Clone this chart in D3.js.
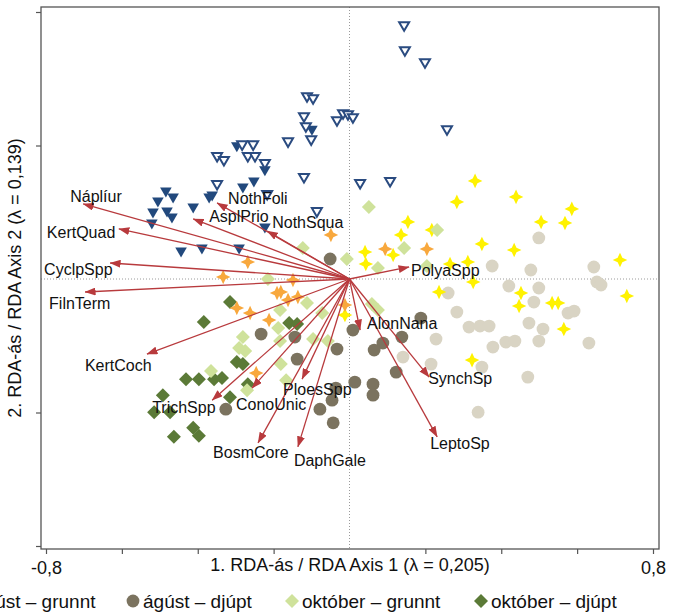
<!DOCTYPE html>
<html>
<head>
<meta charset="utf-8">
<script src="https://cdn.jsdelivr.net/npm/d3@7"></script>
<style>
	body { margin: 0; background: #fff; }
	svg { display: block; font-family: "Liberation Sans", Arial, Helvetica, sans-serif; }
</style>
</head>
<body>
<div id="chart"></div>
<script>
// Sample scores on RDA axis 1 / axis 2
var blueOpen = [
	[0.144, 0.758], [0.146, 0.683], [0.199, 0.647], [-0.112, 0.545], [-0.096, 0.539],
	[-0.120, 0.485], [-0.033, 0.473], [-0.017, 0.494], [-0.004, 0.491], [0.009, 0.482],
	[-0.115, 0.455], [0.257, 0.446], [-0.101, 0.416], [-0.162, 0.410], [-0.283, 0.401],
	[-0.254, 0.401], [-0.349, 0.366], [-0.331, 0.354], [-0.268, 0.366], [-0.249, 0.366],
	[-0.223, 0.345], [-0.120, 0.303], [-0.349, 0.282], [-0.217, 0.252], [-0.086, 0.201],
	[0.028, 0.285], [0.107, 0.291]
];
var blueFilled = [
	[-0.297, 0.396], [-0.223, 0.324], [-0.252, 0.291], [-0.281, 0.273], [-0.362, 0.249],
	[-0.370, 0.243], [-0.484, 0.261], [-0.505, 0.231], [-0.465, 0.243], [-0.412, 0.213],
	[-0.518, 0.198], [-0.481, 0.201], [-0.468, 0.183], [-0.521, 0.165], [-0.444, 0.081],
	[-0.389, 0.090], [-0.291, 0.090], [-0.099, 0.446], [-0.223, 0.153]
];
var yellowStar = [
	[0.331, 0.294], [0.439, 0.246], [0.283, 0.231], [0.586, 0.210], [0.505, 0.171],
	[0.568, 0.168], [0.154, 0.171], [0.136, 0.132], [0.217, 0.147], [0.349, 0.105],
	[0.434, 0.087], [0.041, 0.081], [0.115, 0.072], [0.043, 0.045], [0.265, 0.045],
	[0.312, 0.051], [0.713, 0.057], [0.326, -0.009], [0.236, -0.039], [0.452, -0.042],
	[0.731, -0.051], [0.447, -0.081], [0.534, -0.072], [0.550, -0.072], [0.565, -0.150],
	[0.323, -0.243], [-0.012, -0.108]
];
var greyCircle = [
	[0.499, 0.123], [0.376, 0.039], [0.478, 0.027], [0.644, 0.036], [0.652, -0.009],
	[0.663, -0.018], [0.420, -0.021], [0.499, -0.027], [0.260, -0.042], [0.486, -0.069],
	[0.283, -0.099], [0.576, -0.102], [0.592, -0.096], [0.315, -0.144], [0.344, -0.141],
	[0.368, -0.141], [0.473, -0.132], [0.510, -0.150], [0.412, -0.189], [0.436, -0.186],
	[0.499, -0.186], [0.631, -0.192], [0.378, -0.204], [0.228, -0.180], [0.141, -0.234],
	[0.215, -0.255], [0.349, -0.264], [0.470, -0.294], [0.339, -0.399]
];
var agustGrunnt = [
	[-0.049, 0.132], [-0.268, 0.051], [-0.333, 0.006], [-0.149, -0.003], [-0.191, -0.042],
	[-0.181, -0.039], [-0.162, -0.063], [-0.136, -0.054], [-0.297, -0.087], [-0.262, -0.102],
	[-0.212, -0.123], [-0.246, -0.282], [-0.012, -0.078], [0.094, 0.090], [0.204, 0.090]
];
var agustDjupt = [
	[-0.051, 0.060], [-0.233, -0.165], [-0.144, -0.174], [-0.138, -0.240], [-0.326, -0.390],
	[-0.078, -0.390], [-0.046, -0.363], [-0.043, -0.431], [-0.033, -0.210], [-0.036, -0.327],
	[0.009, -0.153], [0.188, -0.117], [0.138, -0.174], [0.088, -0.192], [0.065, -0.213],
	[0.123, -0.279], [0.014, -0.309], [0.062, -0.315], [0.062, -0.348]
];
var oktoberGrunnt = [
	[0.051, 0.216], [0.231, 0.147], [0.144, 0.093], [-0.007, 0.060], [0.075, 0.033],
	[0.204, 0.039], [-0.123, 0.093], [-0.215, 0.000], [-0.112, -0.072], [-0.183, -0.093],
	[-0.072, -0.102], [-0.281, -0.174], [-0.291, -0.207], [-0.275, -0.216], [-0.188, -0.147],
	[-0.183, -0.186], [-0.096, -0.180], [-0.057, -0.186], [-0.365, -0.276], [-0.181, -0.255],
	[-0.167, -0.303], [-0.270, -0.333], [0.059, -0.075], [0.075, -0.093]
];
var oktoberDjupt = [
	[-0.315, -0.069], [-0.384, -0.129], [-0.159, -0.132], [-0.138, -0.135], [-0.297, -0.249],
	[-0.281, -0.255], [-0.431, -0.300], [-0.397, -0.300], [-0.357, -0.300], [-0.336, -0.297],
	[-0.268, -0.315], [-0.315, -0.354], [-0.492, -0.348], [-0.515, -0.399], [-0.473, -0.399],
	[-0.412, -0.446], [-0.397, -0.470], [-0.463, -0.473]
];

// Species arrows (biplot scores)
var species = ["Náplíur", "KertQuad", "CyclpSpp", "FilnTerm", "KertCoch", "TrichSpp",
	"ConoUnic", "BosmCore", "DaphGale", "PloesSpp", "AlonNana", "SynchSp", "LeptoSp",
	"PolyaSpp", "NothFoli", "AsplPrio", "NothSqua"];
var speciesX = [-0.702, -0.608, -0.631, -0.697, -0.534, -0.362, -0.257, -0.241, -0.136,
	-0.125, 0.028, 0.210, 0.231, 0.157, -0.349, -0.412, -0.217];
var speciesY = [0.225, 0.150, 0.048, -0.039, -0.225, -0.363, -0.327, -0.491, -0.503,
	-0.300, -0.153, -0.294, -0.473, 0.036, 0.228, 0.180, 0.144];

// label placement relative to arrow tip (pixels)
var labelNudge = [[-13, -8], [-72, 3], [-66, 6], [-36, 11], [-62, 11], [-60, 7],
	[-16, 16], [-45, 9], [-4, 13], [-19, 10], [7, -7], [-1, 1], [-7, 6],
	[2, 3], [11, -5], [16, -3], [5, -9]];

var legendNames = ["ágúst – grunnt", "ágúst – djúpt", "október – grunnt", "október – djúpt"];

var xTicks = [-0.8, -0.6, -0.4, -0.2, 0.2, 0.4, 0.6, 0.8];
var yTicks = [-0.8, -0.4, 0.4, 0.8];

var width = 677, height = 616;
var frame = { left: 41, right: 659, top: 7, bottom: 549 };

var svg = d3.select("#chart").append("svg")
	.attr("width", width)
	.attr("height", height);

var x = d3.scaleLinear().domain([-0.8, 0.8]).range([46, 653]);
var y = d3.scaleLinear().domain([-0.8, 0.8]).range([546, 12]);

// symbol paths
function star4(R) {
	var r = R * 0.32;
	return "M0," + (-R) + "L" + r + "," + (-r) + "L" + R + ",0L" + r + "," + r +
		"L0," + R + "L" + (-r) + "," + r + "L" + (-R) + ",0L" + (-r) + "," + (-r) + "Z";
}
function diamond(h) {
	return "M0," + (-h) + "L" + h + ",0L0," + h + "L" + (-h) + ",0Z";
}
function triDown(w, h) {
	return "M" + (-w) + "," + (-h * 0.45) + "L" + w + "," + (-h * 0.45) + "L0," + (h * 0.55) + "Z";
}
var circlePath = d3.symbol().type(d3.symbolCircle).size(Math.PI * 6.4 * 6.4)();

var groups = [
	{ data: blueFilled, path: triDown(5.8, 10), fill: "#22497d", stroke: "none" },
	{ data: blueOpen, path: triDown(5, 8.6), fill: "#fff", stroke: "#2a4b80", sw: 2 },
	{ data: greyCircle, path: circlePath, fill: "#d9d4c4", stroke: "none" },
	{ data: yellowStar, path: star4(7.3), fill: "#fff200", stroke: "none" },
	{ data: agustDjupt, path: circlePath, fill: "#7b735f", stroke: "none" },
	{ data: oktoberDjupt, path: diamond(7), fill: "#5b7a37", stroke: "none" },
	{ data: oktoberGrunnt, path: diamond(7), fill: "#cfe29b", stroke: "none" },
	{ data: agustGrunnt, path: star4(7.3), fill: "#f8a83d", stroke: "none" }
];

// zero lines
svg.append("line")
	.attr("x1", x(0)).attr("x2", x(0))
	.attr("y1", frame.top).attr("y2", frame.bottom)
	.attr("stroke", "#9a9a9a").attr("stroke-dasharray", "1,2");
svg.append("line")
	.attr("x1", frame.left).attr("x2", frame.right)
	.attr("y1", y(0)).attr("y2", y(0))
	.attr("stroke", "#9a9a9a").attr("stroke-dasharray", "1,2");

// points
groups.forEach(function (g) {
	svg.append("g").selectAll("path")
		.data(g.data)
		.enter()
		.append("path")
		.attr("d", g.path)
		.attr("transform", function (d) { return "translate(" + x(d[0]) + "," + y(d[1]) + ")"; })
		.attr("fill", g.fill)
		.attr("stroke", g.stroke)
		.attr("stroke-width", g.sw || 0);
});

// arrows
var arrowColor = "#b83a3d";
svg.append("defs").append("marker")
	.attr("id", "head")
	.attr("viewBox", "0 0 11 8")
	.attr("refX", 10.5).attr("refY", 4)
	.attr("markerWidth", 11).attr("markerHeight", 8)
	.attr("markerUnits", "userSpaceOnUse")
	.attr("orient", "auto")
	.append("path")
	.attr("d", "M0,0L11,4L0,8Z")
	.attr("fill", arrowColor);

svg.append("g").selectAll("line")
	.data(species)
	.enter()
	.append("line")
	.attr("x1", x(0)).attr("y1", y(0))
	.attr("x2", function (d, i) { return x(speciesX[i]); })
	.attr("y2", function (d, i) { return y(speciesY[i]); })
	.attr("stroke", arrowColor)
	.attr("stroke-width", 1.3)
	.attr("marker-end", "url(#head)");

svg.append("g").selectAll("text")
	.data(species)
	.enter()
	.append("text")
	.attr("x", function (d, i) { return x(speciesX[i]) + labelNudge[i][0]; })
	.attr("y", function (d, i) { return y(speciesY[i]) + labelNudge[i][1]; })
	.attr("dy", "0.36em")
	.attr("font-size", 16)
	.attr("fill", "#111")
	.text(function (d) { return d; });

// frame
svg.append("rect")
	.attr("x", frame.left).attr("y", frame.top)
	.attr("width", frame.right - frame.left)
	.attr("height", frame.bottom - frame.top)
	.attr("fill", "none")
	.attr("stroke", "#555")
	.attr("stroke-width", 1.3);

// axes
var fmt = function (d) {
	return Math.abs(d) === 0.8 ? (d < 0 ? "-" : "") + d3.format(".1f")(Math.abs(d)).replace(".", ",") : "";
};
var xAxis = svg.append("g")
	.attr("transform", "translate(0," + frame.bottom + ")")
	.call(d3.axisBottom(x).tickValues(xTicks).tickSize(5).tickFormat(fmt));
var yAxis = svg.append("g")
	.attr("transform", "translate(" + frame.left + ",0)")
	.call(d3.axisLeft(y).tickValues(yTicks).tickSize(5).tickFormat(""));
[xAxis, yAxis].forEach(function (a) {
	a.select(".domain").remove();
	a.selectAll("line").attr("stroke", "#555").attr("stroke-width", 1.2);
});
xAxis.selectAll("text")
	.attr("font-size", 18)
	.attr("font-family", "Liberation Sans, Arial, sans-serif")
	.attr("fill", "#111")
	.attr("dy", "0.95em");

svg.append("text")
	.attr("x", 350).attr("y", 571)
	.attr("text-anchor", "middle")
	.attr("font-size", 18)
	.attr("fill", "#111")
	.text("1. RDA-ás / RDA Axis 1 (λ = 0,205)");

svg.append("text")
	.attr("transform", "translate(21,278) rotate(-90)")
	.attr("text-anchor", "middle")
	.attr("font-size", 18)
	.attr("fill", "#111")
	.text("2. RDA-ás / RDA Axis 2 (λ = 0,139)");

// legend (first entry runs off the left edge, as in the source figure)
var legendX = [-36, 133, 292, 481];
var legendShapes = [groups[7], groups[4], groups[6], groups[5]];
var legend = svg.append("g").selectAll("g")
	.data(legendNames)
	.enter()
	.append("g")
	.attr("transform", function (d, i) { return "translate(" + legendX[i] + ",601)"; });
legend.append("path")
	.attr("d", function (d, i) { return legendShapes[i].path; })
	.attr("fill", function (d, i) { return legendShapes[i].fill; });
legend.append("text")
	.attr("x", 10)
	.attr("dy", "0.36em")
	.attr("font-size", 19)
	.attr("fill", "#111")
	.text(function (d) { return d; });
</script>
</body>
</html>
